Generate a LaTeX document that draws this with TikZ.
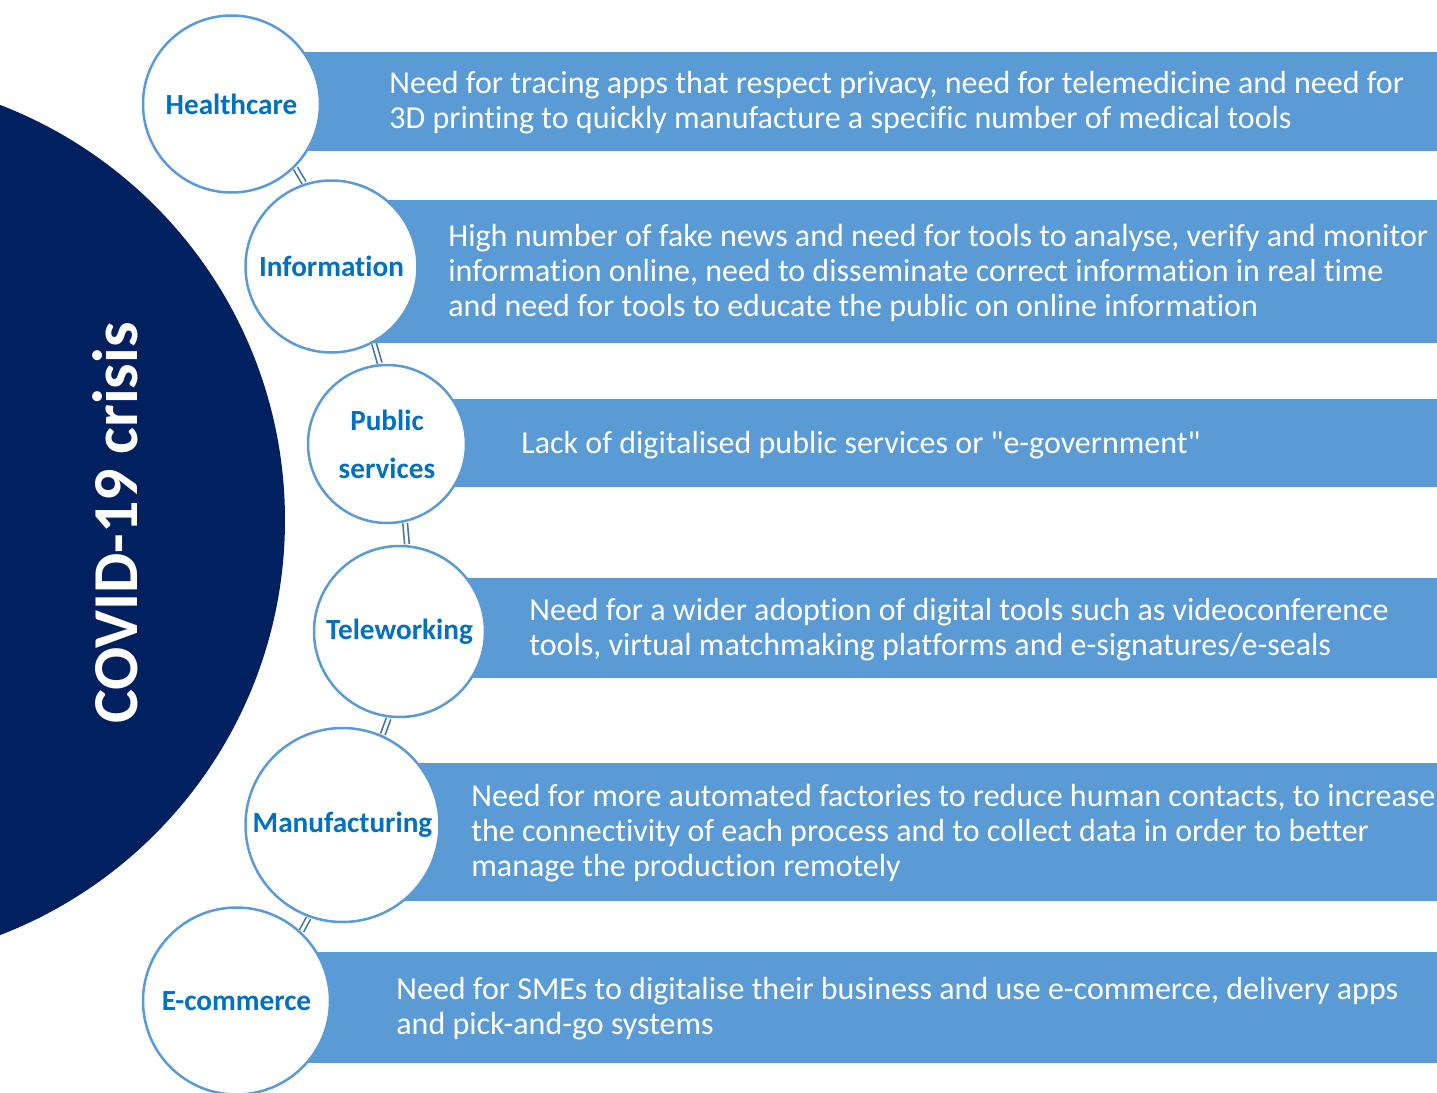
\documentclass[tikz,border=0pt]{standalone}
\usepackage{fontspec}
\newfontfamily\carlito{Carlito}[Ligatures=NoCommon]
\definecolor{crisisnavy}{HTML}{002060}
\definecolor{barblue}{HTML}{5B9BD5}
\definecolor{topicblue}{HTML}{0070C0}
\definecolor{linkblue}{HTML}{41719C}

\begin{document}
\begin{tikzpicture}[x=0.5pt,y=-0.5pt,
  topic/.style={circle,draw=barblue,line width=1.25pt,fill=white,text=topicblue,
    font=\carlito\fontsize{14.6}{24}\selectfont\bfseries,align=center,inner sep=0pt},
  bartext/.style={anchor=west,text=white,align=left,inner sep=0pt,
    font=\carlito\fontsize{16}{17.5}\selectfont},
  link/.style={draw=linkblue,line width=0.8pt,double=white,double distance=1.5pt,
    shorten <=0.5pt,shorten >=0.5pt}]
\clip (0,0) rectangle (1437,1093);
% Big circle
\fill[crisisnavy] (-159.6,520) circle (222.3pt);
\node[rotate=90,text=white,font=\carlito\fontsize{32}{38}\selectfont\bfseries] (crisis) at (115.5,523) {COVID-19 crisis};
% Bars
\fill[barblue] (231.5,52) rectangle (1437,151);
\fill[barblue] (331.5,200) rectangle (1437,343);
\fill[barblue] (387,399) rectangle (1437,487);
\fill[barblue] (399.5,578) rectangle (1437,678);
\fill[barblue] (342.5,763) rectangle (1437,901);
\fill[barblue] (236.5,952) rectangle (1437,1063);
% Bar texts
\node[bartext] (hctext) at (389,103) {Need for tracing apps that respect privacy, need for telemedicine and need for\\3D printing to quickly manufacture a specific number of medical tools};
\node[bartext] (infotext) at (448,273) {High number of fake news and need for tools to analyse, verify and monitor\\information online, need to disseminate correct information in real time\\and need for tools to educate the public on online information};
\node[bartext] (pubtext) at (521,445) {Lack of digitalised public services or "e-government"};
\node[bartext] (teletext) at (529,630) {Need for a wider adoption of digital tools such as videoconference\\tools, virtual matchmaking platforms and e-signatures/e-seals};
\node[bartext] (manutext) at (471,833) {Need for more automated factories to reduce human contacts, to increase\\the connectivity of each process and to collect data in order to better\\manage the production remotely};
\node[bartext] (ecomtext) at (396,1009) {Need for SMEs to digitalise their business and use e-commerce, delivery apps\\and pick-and-go systems};
% Topic circles
\node[topic,minimum size=88.5pt] (hc) at (231.5,104) {Healthcare};
\node[topic,minimum size=86pt] (info) at (331.5,266.5) {Information};
\node[topic,minimum size=79pt] (pub) at (387,444) {Public\\services};
\node[topic,minimum size=85.5pt] (tele) at (399.5,631.5) {Teleworking};
\node[topic,minimum size=97pt] (manu) at (342.5,825) {Manufacturing};
\node[topic,minimum size=93.5pt] (ecom) at (236.5,1001) {E-commerce};
% Links
\draw[link] (hc.-45) -- (info.108);
\draw[link] (info.-61) -- (pub.95);
\draw[link] (pub.-77) -- (tele.85);
\draw[link] (tele.-97) -- (manu.66);
\draw[link] (manu.-110) -- (ecom.47);
\end{tikzpicture}
\end{document}
